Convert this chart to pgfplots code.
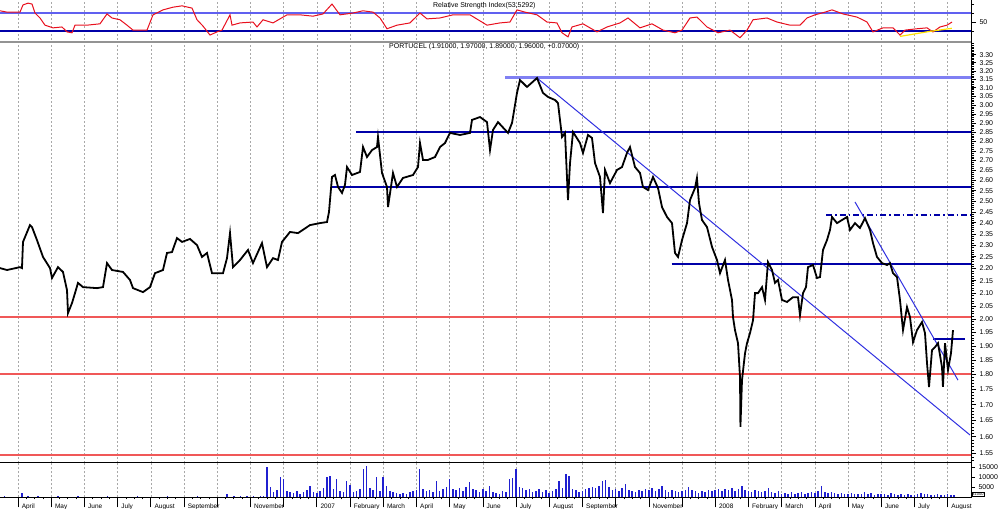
\documentclass[border=0pt]{standalone}
\usepackage{fontspec}
\setmainfont{Liberation Sans}
\usepackage{pgfplots}
\pgfplotsset{compat=1.18}

\definecolor{rsired}{HTML}{E8101E}
\definecolor{lineblue}{HTML}{0000A8}
\definecolor{liteblue}{HTML}{6060F0}
\definecolor{trendblue}{HTML}{3030E0}
\definecolor{supred}{HTML}{F05858}
\definecolor{volblue}{HTML}{2020D0}
\definecolor{gridgray}{HTML}{A8A8A8}

% x = months since 1 April 2006
\pgfplotsset{
  panel/.style={
    scale only axis, width=972bp, xmin=-0.542, xmax=28.735,
    xtick={0,...,28}, xmajorgrids,
    major grid style={gridgray, line width=0.5bp, dash pattern=on 2bp off 2bp},
    axis line style={draw=none},
    ytick pos=right, yticklabel pos=right,
    tick align=outside,
    tick label style={font=\fontsize{7}{8}\selectfont},
    /pgf/number format/assume math mode=true,
    /pgf/number format/1000 sep={},
    ytick style={black, line width=0.5bp},
  },
  noxlabels/.style={xticklabels={}, xtick style={draw=none}},
}

\begin{document}
\begin{tikzpicture}
\path[use as bounding box] (0,0) rectangle (1000bp,509bp);

% ---- RSI panel ----
\begin{axis}[panel, noxlabels, at={(0bp,469bp)}, anchor=south west,
  height=40bp, ymin=11, ymax=100, ytick={50}, minor ytick={30,70,90},
  major tick length=4bp, minor tick length=2bp]
\addplot[liteblue, line width=2bp] coordinates {(-0.542,70) (28.735,70)};
\addplot[lineblue, line width=2bp] coordinates {(-0.542,30) (28.735,30)};
\addplot[rsired, line width=1bp] coordinates {
(-0.542,76) (-0.331,73) (0.060,73) (0.151,89) (0.301,93) (0.422,91) (0.512,71)
(0.663,60) (0.813,44) (1.054,38) (1.325,40) (1.476,29) (1.627,27) (1.717,44)
(2.078,44) (2.470,47) (2.681,69) (2.831,60) (3.072,56) (3.283,44) (3.464,33)
(3.886,33) (4.066,67) (4.367,78) (4.669,84) (4.940,87) (5.241,82) (5.392,56)
(5.572,42) (5.783,22) (5.994,29) (6.145,33) (6.386,67) (6.446,44) (6.687,49)
(7.078,51) (7.199,40) (7.380,56) (7.681,49) (8.102,67) (8.494,67) (8.886,64)
(9.187,69) (9.458,91) (9.699,67) (10.090,71) (10.392,76) (10.693,73) (10.904,60)
(11.114,36) (11.416,44) (11.807,49) (12.108,71) (12.319,58) (12.711,60) (13.102,67)
(13.614,67) (14.127,44) (14.518,49) (14.819,51) (15.030,78) (15.271,73) (15.633,67)
(15.934,51) (16.235,49) (16.386,27) (16.566,18) (16.687,40) (17.018,47) (17.440,29)
(17.741,40) (18.133,49) (18.373,60) (18.735,38) (19.096,47) (19.428,33) (19.789,27)
(20.000,33) (20.241,60) (20.452,62) (20.753,40) (21.084,27) (21.446,33) (21.747,16)
(21.958,33) (22.139,56) (22.560,60) (22.861,51) (23.253,44) (23.554,44) (23.765,60)
(24.006,67) (24.307,73) (24.518,78) (24.849,69) (25.271,62) (25.572,51) (25.753,29)
(26.054,38) (26.355,38) (26.566,22) (26.717,33) (27.078,36) (27.380,38) (27.560,29)
(27.771,40) (27.982,44) (28.133,51)};
\addplot[yellow!85!orange, line width=1.2bp] coordinates {(26.57,19) (27.45,30) (28.13,37)};
\end{axis}

% ---- price panel (log scale) ----
\begin{axis}[panel, noxlabels, at={(0bp,46bp)}, anchor=south west,
  height=421bp, ymode=log, ymin=1.522, ymax=3.380,
  ytick={1.55,1.60,...,3.35}, minor ytick={1.53,1.54,...,3.37},
  yticklabel={\pgfmathparse{exp(\tick)}\pgfmathprintnumber[fixed,fixed zerofill,precision=2]{\pgfmathresult}},
  major tick length=4bp, minor tick length=2bp]
% support / resistance lines
\addplot[liteblue!80, line width=2.2bp] coordinates {(14.669,3.16) (28.735,3.16)};
\addplot[lineblue, line width=2.2bp] coordinates {(10.181,2.85) (28.735,2.85)};
\addplot[lineblue, line width=2.2bp] coordinates {(9.428,2.567) (28.735,2.567)};
\addplot[lineblue, line width=2.2bp] coordinates {(19.690,2.22) (28.735,2.22)};
\addplot[lineblue, line width=1.8bp, dash pattern=on 6bp off 3bp on 1.5bp off 3bp] coordinates {(24.340,2.435) (28.735,2.435)};
\addplot[lineblue, line width=1.8bp] coordinates {(27.560,1.925) (28.520,1.925)};
\addplot[supred, line width=2bp] coordinates {(-0.542,2.006) (28.735,2.006)};
\addplot[supred, line width=2bp] coordinates {(-0.542,1.802) (28.735,1.802)};
\addplot[supred, line width=2bp] coordinates {(-0.542,1.545) (28.735,1.545)};
% trend lines
\addplot[trendblue, line width=1bp] coordinates {(15.633,3.157) (28.675,1.605)};
\addplot[trendblue, line width=1bp] coordinates {(25.211,2.496) (28.313,1.781)};
% price
\addplot[black, line width=1.8bp] coordinates {
(-0.542,2.202) (-0.331,2.194) (0.060,2.206) (0.120,2.202) (0.151,2.314) (0.361,2.389)
(0.422,2.380) (0.572,2.322) (0.753,2.249) (0.964,2.202) (1.024,2.161) (1.205,2.206)
(1.355,2.186) (1.476,2.112) (1.506,2.022) (1.627,2.061) (1.717,2.100) (1.807,2.141)
(1.958,2.124) (2.380,2.120) (2.560,2.124) (2.681,2.223) (2.831,2.194) (3.163,2.186)
(3.373,2.153) (3.464,2.120) (3.765,2.104) (3.976,2.124) (4.127,2.181) (4.367,2.194)
(4.488,2.266) (4.639,2.270) (4.789,2.331) (4.940,2.314) (5.181,2.327) (5.392,2.300)
(5.542,2.249) (5.693,2.266) (5.843,2.181) (5.994,2.181) (6.175,2.181) (6.295,2.244)
(6.386,2.353) (6.476,2.206) (6.687,2.236) (6.928,2.279) (7.078,2.223) (7.349,2.309)
(7.500,2.206) (7.681,2.244) (7.831,2.236) (7.952,2.314) (8.193,2.358) (8.434,2.353)
(8.795,2.389) (9.096,2.398) (9.307,2.403) (9.367,2.449) (9.458,2.617) (9.548,2.627)
(9.639,2.568) (9.759,2.539) (9.849,2.578) (9.910,2.667) (10.060,2.627) (10.301,2.642)
(10.392,2.770) (10.512,2.718) (10.663,2.754) (10.813,2.770) (10.843,2.823) (10.964,2.637)
(11.114,2.568) (11.145,2.472) (11.295,2.637) (11.416,2.568) (11.596,2.612) (11.898,2.627)
(12.048,2.667) (12.108,2.791) (12.199,2.703) (12.349,2.703) (12.560,2.718) (12.711,2.770)
(12.861,2.791) (13.012,2.845) (13.313,2.834) (13.614,2.845) (13.675,2.916) (13.916,2.932)
(14.127,2.904) (14.217,2.754) (14.307,2.861) (14.458,2.904) (14.759,2.845) (14.880,2.899)
(15.030,3.069) (15.120,3.145) (15.331,3.104) (15.633,3.157) (15.813,3.069) (15.964,3.046)
(16.175,3.028) (16.265,3.011) (16.386,2.823) (16.476,2.845) (16.566,2.505) (16.627,2.687)
(16.717,2.850) (16.928,2.791) (17.018,2.739) (17.169,2.834) (17.289,2.818) (17.380,2.687)
(17.530,2.617) (17.620,2.444) (17.681,2.652) (17.831,2.587) (18.042,2.652) (18.193,2.667)
(18.343,2.739) (18.434,2.770) (18.584,2.667) (18.735,2.637) (18.825,2.568) (18.976,2.553)
(19.127,2.617) (19.277,2.563) (19.398,2.472) (19.548,2.426) (19.699,2.398) (19.789,2.266)
(19.880,2.249) (20.000,2.322) (20.151,2.398) (20.241,2.505) (20.392,2.563) (20.450,2.612)
(20.512,2.491) (20.602,2.412) (20.753,2.380) (20.904,2.292) (21.054,2.236) (21.145,2.181)
(21.295,2.236) (21.386,2.153) (21.506,2.073) (21.536,2.007) (21.596,1.958) (21.687,1.910)
(21.747,1.791) (21.760,1.630) (21.807,1.781) (21.898,1.874) (21.958,1.910) (22.048,1.947)
(22.139,1.995) (22.199,2.100) (22.289,2.100) (22.410,2.124) (22.500,2.073) (22.590,2.227)
(22.711,2.194) (22.801,2.141) (22.892,2.153) (23.012,2.073) (23.163,2.065) (23.343,2.084)
(23.494,2.084) (23.554,2.014) (23.645,2.100) (23.735,2.124) (23.795,2.206) (23.946,2.215)
(24.066,2.161) (24.157,2.165) (24.247,2.279) (24.367,2.322) (24.458,2.367) (24.518,2.426)
(24.669,2.398) (24.819,2.412) (24.970,2.426) (25.060,2.367) (25.211,2.398) (25.361,2.376)
(25.512,2.421) (25.663,2.367) (25.753,2.309) (25.873,2.249) (26.024,2.223) (26.175,2.215)
(26.265,2.223) (26.355,2.181) (26.476,2.165) (26.566,2.073) (26.627,1.995) (26.657,1.958)
(26.777,2.045) (26.867,2.007) (26.958,1.914) (27.078,1.958) (27.229,1.988) (27.319,1.947)
(27.380,1.839) (27.440,1.758) (27.530,1.885) (27.620,1.896) (27.711,1.910) (27.831,1.825)
(27.860,1.758) (27.922,1.910) (28.012,1.815) (28.102,1.874) (28.163,1.958)};
\end{axis}

% ---- volume panel ----
\begin{axis}[panel, at={(0bp,11.7bp)}, anchor=south west,
  height=34.3bp, ymin=0, ymax=17150, ytick={5000,10000,15000},
  scaled y ticks=false, major tick length=3bp, minor tick length=2bp,
  xtick pos=bottom, minor x tick num=3,
  xticklabels={April,May,June,July,August,September,,November,,2007,February,March,April,May,June,July,August,September,,November,,2008,February,March,April,May,June,July,August},
  xticklabel style={anchor=north west, xshift=0.3bp, font=\fontsize{6.5}{7}\selectfont},
  xtick style={black, line width=0.6bp},
  extra x ticks={0,...,28}, extra x tick labels={},
  extra x tick style={major tick length=10bp, xmajorgrids=false, tick style={black, line width=0.6bp}}]
\addplot[volblue, ycomb, line width=1.5bp] coordinates {
(-0.4,500) (-0.1,400) (0.12,2000) (0.3,600) (0.6,500) (0.9,300) (1.2,600) (1.5,400)
(1.8,500) (2.1,300) (2.4,400) (2.7,500) (3.0,300) (3.3,400) (3.6,600) (3.9,300)
(4.2,400) (4.5,500) (4.8,300) (5.1,400) (5.4,500) (5.7,300) (6.0,400) (6.3,1500)
(6.5,800) (6.7,600) (6.9,700) (7.1,500) (7.3,600) (7.4,900)
(7.5,15000) (7.6,5000) (7.7,2500) (7.8,3500) (7.9,10000) (8.0,9000) (8.1,3000) (8.2,2500)
(8.3,2000) (8.4,3000) (8.5,1800) (8.6,2500) (8.7,3500) (8.8,5500) (8.9,2500) (9.0,2000)
(9.1,3000) (9.2,4500) (9.3,10000) (9.4,10500) (9.5,4000) (9.6,9000) (9.7,3000) (9.8,2500)
(9.9,8000) (10.0,6000) (10.1,2500) (10.2,3000) (10.3,4000) (10.4,14000) (10.5,15500) (10.6,4500)
(10.7,3500) (10.8,10000) (10.9,3000) (11.0,10000) (11.1,5500) (11.2,3000) (11.3,2500) (11.4,2000)
(11.5,1500) (11.6,2000) (11.7,1800) (11.8,2500) (11.9,3000) (12.0,3500) (12.1,14000) (12.2,4000)
(12.3,3000) (12.4,3500) (12.5,2500) (12.6,8000) (12.7,3000) (12.8,4000) (12.9,5000) (13.0,9000)
(13.1,4000) (13.2,3500) (13.3,4500) (13.4,3000) (13.5,5000) (13.6,7500) (13.7,4000) (13.8,3500)
(13.9,2500) (14.0,4000) (14.1,3000) (14.2,5500) (14.3,2500) (14.4,2000) (14.5,1500) (14.6,3000)
(14.7,2500) (14.8,9000) (14.9,9500) (15.0,14000) (15.1,5000) (15.2,4500) (15.3,3500) (15.4,4000)
(15.5,2500) (15.6,3000) (15.7,4000) (15.8,2500) (15.9,3500) (16.0,2000) (16.1,3000) (16.2,4000)
(16.3,8000) (16.4,4500) (16.5,11500) (16.6,10500) (16.7,4000) (16.8,3500) (16.9,2500) (17.0,3000)
(17.1,4000) (17.2,4500) (17.3,5000) (17.4,4500) (17.5,5500) (17.6,8000) (17.7,8500) (17.8,5000)
(17.9,3500) (18.0,4000) (18.1,3000) (18.2,4500) (18.3,6500) (18.4,3500) (18.5,3000) (18.6,2500)
(18.7,3500) (18.8,3000) (18.9,4000) (19.0,3500) (19.1,4500) (19.2,3000) (19.3,4000) (19.4,5500)
(19.5,3500) (19.6,2500) (19.7,3500) (19.8,3000) (19.9,2500) (20.0,3000) (20.1,3500) (20.2,5000)
(20.3,3500) (20.4,3000) (20.5,2000) (20.6,3000) (20.7,2500) (20.8,3500) (20.9,3000) (21.0,3500)
(21.1,4000) (21.2,3000) (21.3,4000) (21.4,3500) (21.5,4500) (21.6,3000) (21.7,4000) (21.8,5500)
(21.9,3500) (22.0,3000) (22.1,2500) (22.2,3500) (22.3,3000) (22.4,2500) (22.5,3000) (22.6,4500)
(22.7,2500) (22.8,2000) (22.9,3000) (23.0,1500) (23.1,2000) (23.2,1500) (23.3,2500) (23.4,1800)
(23.5,2000) (23.6,2500) (23.7,1500) (23.8,2000) (23.9,2500) (24.0,2000) (24.1,3000) (24.2,5500)
(24.3,2500) (24.4,2000) (24.5,2500) (24.6,2000) (24.7,1500) (24.8,2000) (24.9,1800) (25.0,1500)
(25.1,2000) (25.2,1500) (25.3,1800) (25.4,1500) (25.5,2500) (25.6,1500) (25.7,2000) (25.8,1200)
(25.9,1500) (26.0,1800) (26.1,1500) (26.2,1200) (26.3,2000) (26.4,1500) (26.5,1200) (26.6,1500)
(26.7,1000) (26.8,1500) (26.9,1200) (27.0,1000) (27.1,1500) (27.2,2000) (27.3,1800) (27.4,1500)
(27.5,1200) (27.6,1000) (27.7,1500) (27.8,1200) (27.9,1000) (28.0,1500) (28.1,1200) (28.2,1000)};
\end{axis}

% panel borders
\draw[gray!85, line width=2.5bp] (0,467bp) -- (972bp,467bp);
\draw[black, line width=1bp] (0,46bp) -- (972bp,46bp);
\draw[black, line width=1bp] (0,11.7bp) -- (972bp,11.7bp);
\draw[black, line width=1bp] (971.5bp,11.7bp) -- (971.5bp,509bp);

% titles
\node[anchor=west, inner sep=0, font=\fontsize{7}{8}\selectfont] at (433bp,503.3bp) {Relative Strength Index(53,5292)};
\node[anchor=west, inner sep=0, font=\fontsize{7}{8}\selectfont] at (389bp,462.3bp) {PORTUCEL (1.91000, 1.97000, 1.89000, 1.96000, +0.07000)};
\node[anchor=west, draw, fill=white, inner sep=0.4bp, line width=0.4bp, font=\fontsize{4}{4.5}\selectfont] at (972bp,14.5bp) {x1000};
\end{tikzpicture}
\end{document}
